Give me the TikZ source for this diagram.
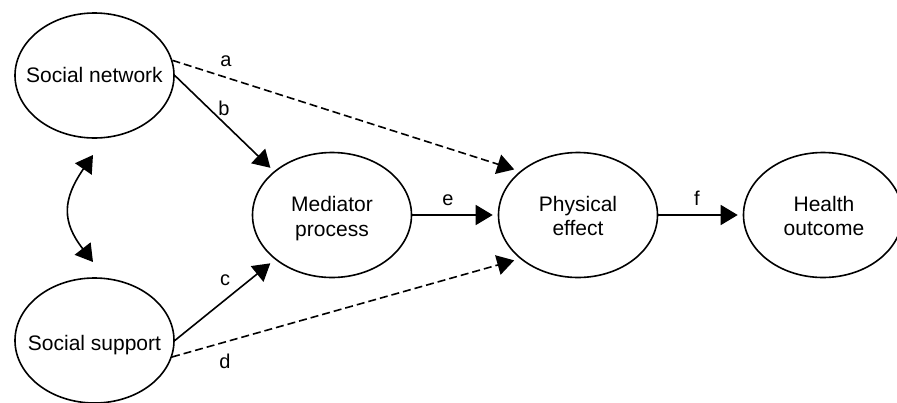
\documentclass[tikz,border=0pt]{standalone}
\usepackage{fontspec}
\setmainfont{Liberation Sans}
\usetikzlibrary{shapes.geometric,arrows.meta}
\begin{document}
\begin{tikzpicture}[x=1pt,y=-1pt,
  ell/.style={draw,ellipse,line width=1.6pt,minimum width=159pt,minimum height=125pt,inner sep=0pt},
  txt/.style={font=\fontsize{21}{24.5}\selectfont,align=center,inner sep=0pt},
  lbl/.style={font=\fontsize{20}{24}\selectfont,inner sep=0pt,anchor=base},
  conn/.style={line width=1.6pt,-{Triangle[length=17pt,width=20pt]}},
  dconn/.style={conn,dash pattern=on 8pt off 4pt},
]
\useasboundingbox (0,0) rectangle (897,402);
\clip (0,0) rectangle (897,402);

% ellipses
\node[ell] (sn) at (94.5,75.5) {};
\node[ell] (ss) at (94.5,340.5) {};
\node[ell] (med) at (332,215) {};
\node[ell] (phys) at (578,215) {};
\node[ell] (ho) at (823,215) {};

% texts
\node[txt,anchor=base] (snt) at (94.5,82) {Social network};
\node[txt,anchor=base] (sst) at (94.5,350.5) {Social support};
\node[txt] (medt) at (332,218.6) {Mediator\\process};
\node[txt] (physt) at (578,215.9) {Physical\\effect};
\node[txt] (hot) at (824,216.2) {Health\\outcome};

% connectors
\draw[dconn,shorten >=6pt] (sn.11) -- (phys.143);
\draw[conn,shorten >=5pt] (sn.0) -- (med.143);
\draw[conn,shorten >=6pt] (ss.0) -- (med.218);
\draw[dconn,shorten >=6pt] (ss.348) -- (phys.217);
\draw[conn,shorten >=5pt] (med.east) -- (phys.west);
\draw[conn,shorten >=5pt] (phys.east) -- (ho.west);

% correlation arrow
\coordinate (u1) at (93,155);
\coordinate (u2) at (93,262);
\draw[line width=1.6pt,{Triangle[length=17pt,width=20pt]}-{Triangle[length=17pt,width=20pt]}]
  (u1) .. controls (62,200) and (62,222) .. (u2);

% labels
\node[lbl] (la) at (226,66.7) {a};
\node[lbl] (lb) at (224,115) {b};
\node[lbl] (lc) at (225,285) {c};
\node[lbl] (ld) at (225,368) {d};
\node[lbl] (le) at (448,205) {e};
\node[lbl] (lf) at (697,205) {f};
\end{tikzpicture}
\end{document}
